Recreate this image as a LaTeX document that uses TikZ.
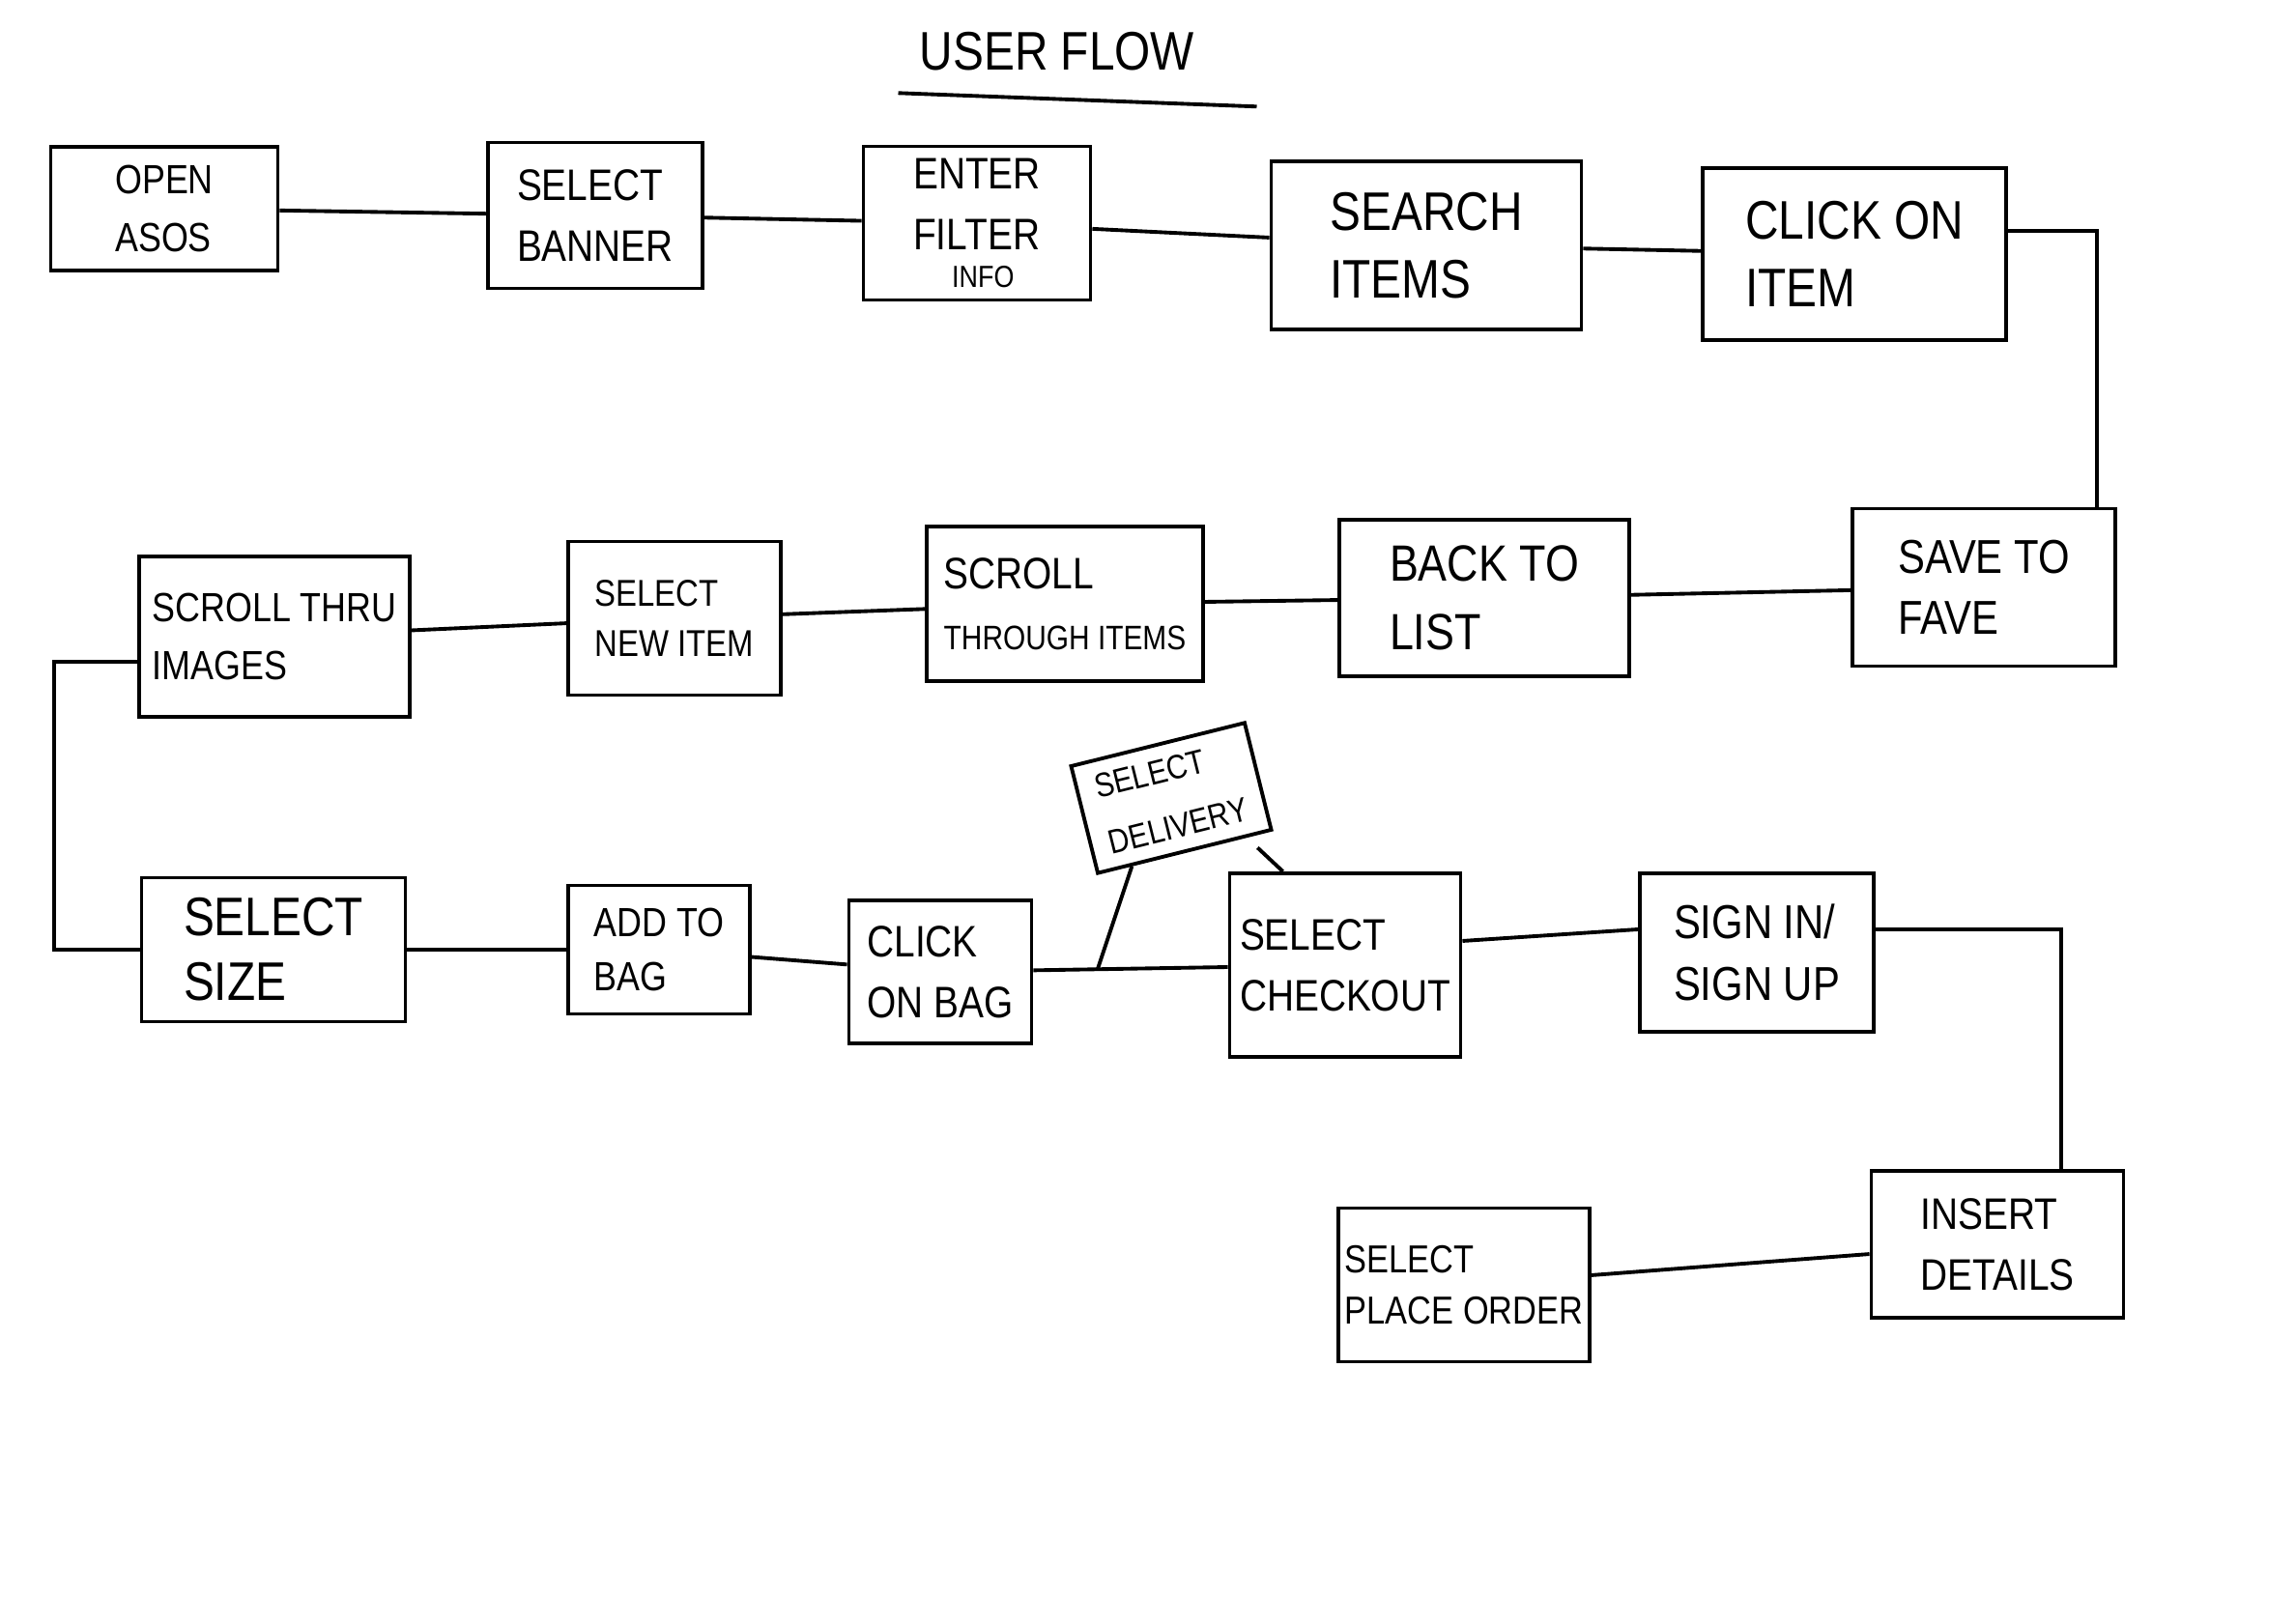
\documentclass[tikz,border=0pt]{standalone}
\usepackage{fontspec}
\setmainfont[FakeStretch=0.85]{Liberation Sans}
\usetikzlibrary{calc}

\begin{document}
\begin{tikzpicture}[
  card/.style={draw, line width=1.1pt, align=left, inner sep=2pt,
    font=\fontsize{13}{18}\selectfont},
  link/.style={line width=1.1pt}
]
\useasboundingbox (0,0) rectangle (23.76,16.81);

\node[font=\fontsize{16}{20}\selectfont] (title) at (10.94,16.28) {USER FLOW};
\draw[link] ([shift={(-0.1,-0.11)}]title.south west) -- ([shift={(0.52,-0.25)}]title.south east);

% first row
\node[card, minimum width=2.35cm, minimum height=1.28cm, font=\fontsize{12}{17}\selectfont] (open) at (1.70,14.65) {OPEN\\ASOS};
\node[card, minimum width=2.22cm, minimum height=1.51cm] (banner) at (6.16,14.58) {SELECT\\BANNER};
\node[card, minimum width=2.35cm, minimum height=1.59cm] (filter) at (10.11,14.50) {ENTER\\FILTER\\[-7pt]\hspace*{4mm}{\fontsize{9}{10}\selectfont INFO}};
\node[card, minimum width=3.21cm, minimum height=1.74cm, font=\fontsize{16}{20}\selectfont] (search) at (14.76,14.27) {SEARCH\\ITEMS};
\node[card, minimum width=3.14cm, minimum height=1.78cm, font=\fontsize{16}{20}\selectfont] (clickitem) at (19.19,14.18) {CLICK ON\\ITEM};

% second row
\node[card, minimum width=2.80cm, minimum height=1.66cm, font=\fontsize{12}{17}\selectfont] (images) at (2.84,10.22) {SCROLL THRU\\IMAGES};
\node[card, minimum width=2.20cm, minimum height=1.59cm, font=\fontsize{11}{15}\selectfont] (newitem) at (6.98,10.41) {SELECT\\NEW ITEM};
\node[card, minimum width=2.86cm, minimum height=1.60cm] (scrollitems) at (11.02,10.56) {SCROLL\\{\fontsize{10}{12}\selectfont THROUGH ITEMS}};
\node[card, minimum width=3.00cm, minimum height=1.62cm, font=\fontsize{15}{20}\selectfont] (backlist) at (15.36,10.62) {BACK TO\\LIST};
\node[card, minimum width=2.72cm, minimum height=1.63cm, font=\fontsize{14}{18}\selectfont] (fave) at (20.53,10.73) {SAVE TO\\FAVE};

% third row
\node[card, minimum width=2.73cm, minimum height=1.49cm, font=\fontsize{16}{19}\selectfont] (size) at (2.83,6.98) {SELECT\\SIZE};
\node[card, minimum width=1.88cm, minimum height=1.33cm, font=\fontsize{12}{16}\selectfont] (addbag) at (6.82,6.98) {ADD TO\\BAG};
\node[card, minimum width=1.89cm, minimum height=1.48cm] (clickbag) at (9.73,6.75) {CLICK\\ON BAG};
\node[card, minimum width=1.85cm, minimum height=1.14cm, rotate=14, font=\fontsize{10}{17}\selectfont] (delivery) at (12.12,8.55) {SELECT\\DELIVERY};
\node[card, minimum width=2.39cm, minimum height=1.90cm] (checkout) at (13.92,6.82) {SELECT\\CHECKOUT};
\node[card, minimum width=2.42cm, minimum height=1.64cm, font=\fontsize{14}{18}\selectfont] (signin) at (18.18,6.95) {SIGN IN/\\SIGN UP};

% last row
\node[card, minimum width=2.61cm, minimum height=1.52cm] (details) at (20.67,3.93) {INSERT\\DETAILS};
\node[card, minimum width=2.58cm, minimum height=1.59cm, font=\fontsize{11.5}{15}\selectfont] (placeorder) at (15.15,3.51) {SELECT\\PLACE ORDER};

% connections
\draw[link] (open) -- (banner);
\draw[link] (banner) -- (filter);
\draw[link] (filter) -- (search);
\draw[link] (search) -- (clickitem);
\draw[link] ([yshift=2.4mm]clickitem.east) -| ([xshift=-2.1mm]fave.north east);
\draw[link] (fave) -- (backlist);
\draw[link] (backlist) -- (scrollitems);
\draw[link] (scrollitems) -- (newitem);
\draw[link] (newitem) -- (images);
\draw[link] ([yshift=-2.6mm]images.west) -- ++(-0.86,0) |- (size.west);
\draw[link] (size) -- (addbag);
\draw[link] (addbag) -- (clickbag);
\draw[link] (clickbag) -- coordinate[pos=0.33] (split) (checkout);
\draw[link] (split) -- ($(delivery.south west)!0.2!(delivery.south east)$);
\draw[link, shorten >=1.5mm] ([xshift=5.7mm]checkout.north west) -- ($(delivery.south west)!0.85!(delivery.south east)$);
\draw[link] ([yshift=2.5mm]checkout.east) -- ([yshift=2.4mm]signin.west);
\draw[link] ([yshift=2.4mm]signin.east) -| ([xshift=6.6mm]details.north);
\draw[link] (details) -- (placeorder);
\end{tikzpicture}
\end{document}
